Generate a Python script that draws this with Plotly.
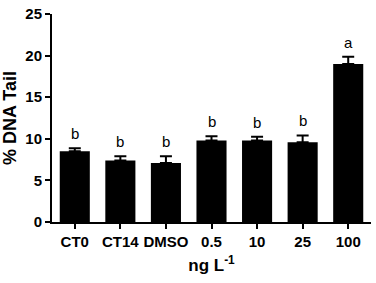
import plotly.graph_objects as go

categories = ["CT0", "CT14", "DMSO", "0.5", "10", "25", "100"]
means = [8.5, 7.4, 7.1, 9.8, 9.8, 9.6, 19.0]
errors = [0.35, 0.5, 0.8, 0.5, 0.45, 0.8, 0.85]
letters = ["b", "b", "b", "b", "b", "b", "a"]
y_ticks = [0, 5, 10, 15, 20, 25]

font_family = "Liberation Sans, Arial, sans-serif"

fig = go.Figure()
fig.add_trace(go.Bar(
    x=categories, y=means,
    marker=dict(color="black", line=dict(width=0)),
    width=0.66,
    error_y=dict(type="data", array=errors, symmetric=False, arrayminus=[0]*len(errors),
                 color="black", thickness=2, width=6, visible=True),
    showlegend=False,
))

for i, (m, e, l) in enumerate(zip(means, errors, letters)):
    fig.add_annotation(x=i, y=m + e, text=l, showarrow=False, yanchor="bottom",
                       xref="x", yref="y",
                       yshift=4, font=dict(family=font_family, size=15, color="black"))

fig.update_layout(
    width=376, height=283,
    margin=dict(l=52, r=5, t=10, b=61),
    plot_bgcolor="white", paper_bgcolor="white",
    bargap=0.34,
    font=dict(family=font_family, color="black"),
)
fig.update_xaxes(
    type="category", range=[-0.5, 6.5],
    showline=True, linecolor="black", linewidth=2,
    ticks="outside", ticklen=5, tickwidth=2, tickcolor="black",
    tickfont=dict(size=15, family=font_family, weight="bold"),
    title=dict(text="<b>ng L<sup>-1</sup></b>", font=dict(size=17, family=font_family), standoff=10),
    showgrid=False,
)
fig.update_yaxes(
    range=[0, 25], tickvals=y_ticks,
    showline=True, linecolor="black", linewidth=2,
    ticks="outside", ticklen=5, tickwidth=2, tickcolor="black",
    tickfont=dict(size=15, family=font_family, weight="bold"),
    title=dict(text="<b>% DNA Tail</b>", font=dict(size=18, family=font_family), standoff=4),
    showgrid=False, zeroline=False,
)

fig.write_html("out.html")
